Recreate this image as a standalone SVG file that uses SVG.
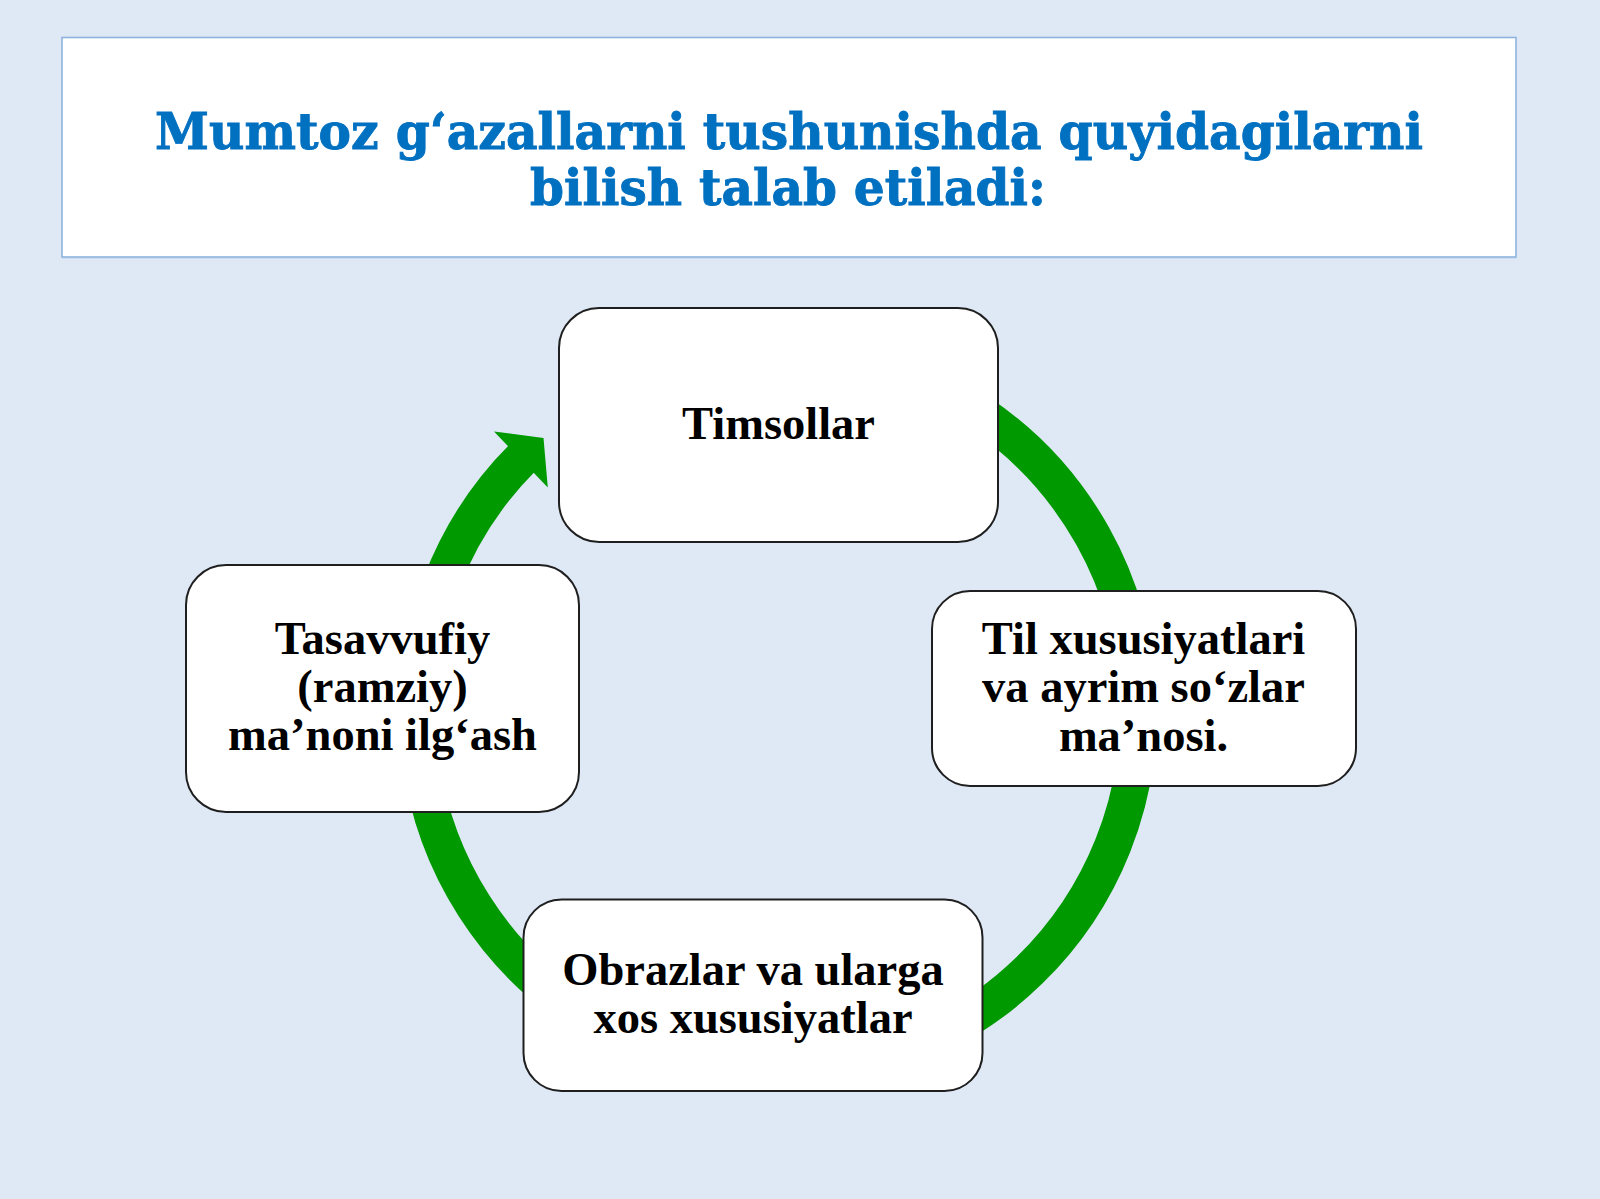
<svg xmlns="http://www.w3.org/2000/svg" width="1600" height="1199" viewBox="0 0 1600 1199">
  <defs>
    <style>
      .bg { fill: #dfe9f6; }
      .header { fill: #ffffff; stroke: #8eb4de; stroke-width: 1.6; }
      .title { font-family: "DejaVu Serif", "Liberation Serif", serif; font-weight: bold; font-size: 50px; fill: #0070c0; stroke: #0070c0; stroke-width: 0.9; text-anchor: middle; }
      .node rect { fill: #ffffff; stroke: #1f1f1f; stroke-width: 2; }
      .node text { font-family: "Liberation Serif", "Times New Roman", serif; font-weight: bold; font-size: 46.5px; fill: #000000; text-anchor: middle; }
      .ring { fill: none; stroke: #009900; stroke-width: 37; stroke-linecap: butt; }
      .head { fill: #009900; }
    </style>
  </defs>
  <rect class="bg" x="0" y="0" width="1600" height="1199"/>
  <g id="header">
    <rect class="header" x="62" y="37.5" width="1454" height="219.5"/>
    <line x1="62" y1="257.5" x2="1516" y2="257.5" stroke="#9dbde3" stroke-width="1.5"/>
    <text class="title" x="789" y="149.3" textLength="1268" lengthAdjust="spacingAndGlyphs">Mumtoz g‘azallarni tushunishda quyidagilarni</text>
    <text class="title" x="788" y="205" textLength="516" lengthAdjust="spacingAndGlyphs">bilish talab etiladi:</text>
  </g>
  <g id="connectors">
    <path class="ring" d="M 840.6 357 A 360.5 360.5 0 1 1 523.09 457.09"/>
    <polygon class="head" points="494,431.5 543.5,437.9 547.8,487.5"/>
  </g>
  <g id="node-timsollar" class="node">
    <rect x="559" y="308" width="439" height="234" rx="40" ry="40"/>
    <text x="778.5" y="439">Timsollar</text>
  </g>
  <g id="node-til" class="node">
    <rect x="932" y="591" width="424" height="195" rx="38" ry="38"/>
    <text x="1143.5" y="653.5">Til xususiyatlari</text>
    <text x="1143.5" y="702">va ayrim so‘zlar</text>
    <text x="1143.5" y="750.5">ma’nosi.</text>
  </g>
  <g id="node-obrazlar" class="node">
    <rect x="523.5" y="899.5" width="459" height="191.5" rx="38" ry="38"/>
    <text x="753" y="984.5">Obrazlar va ularga</text>
    <text x="753" y="1032.5">xos xususiyatlar</text>
  </g>
  <g id="node-tasavvufiy" class="node">
    <rect x="186" y="565" width="393" height="247" rx="40" ry="40"/>
    <text x="382.5" y="653.5">Tasavvufiy</text>
    <text x="382.5" y="702">(ramziy)</text>
    <text x="382.5" y="750">ma’noni ilg‘ash</text>
  </g>
</svg>
